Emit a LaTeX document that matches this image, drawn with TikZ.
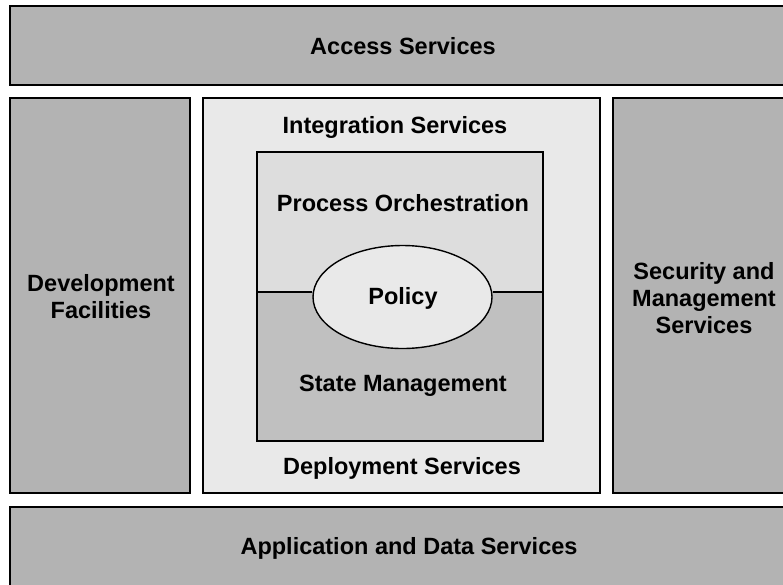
\documentclass[tikz,border=0pt]{standalone}
\usepackage{fontspec}
\setmainfont{Liberation Sans}
\usetikzlibrary{shapes.geometric}
\definecolor{outergray}{HTML}{B3B3B3}
\definecolor{intgray}{HTML}{E9E9E9}
\definecolor{procgray}{HTML}{DDDDDD}
\definecolor{stategray}{HTML}{C0C0C0}
\tikzset{
  box/.style={draw=black, line width=1.6pt},
  lbl/.style={font=\fontsize{23.5}{27}\selectfont\bfseries, align=center, inner sep=0pt}
}
\begin{document}
\begin{tikzpicture}[x=1pt, y=-1pt]
\useasboundingbox (0,0) rectangle (783,584);
\clip (0,0) rectangle (783,584);
\fill[white] (0,0) rectangle (783,584);
% outer boxes
\draw[box, fill=outergray] (10,6) rectangle (800,85);
\draw[box, fill=outergray] (10,98) rectangle (190,493);
\draw[box, fill=intgray] (203,98) rectangle (600,493);
\draw[box, fill=outergray] (613,98) rectangle (800,493);
\draw[box, fill=outergray] (10,507) rectangle (800,600);
% inner box
\fill[procgray] (257,152) rectangle (543,292);
\fill[stategray] (257,292) rectangle (543,441);
\draw[box] (257,152) rectangle (543,441);
\node[draw=black, line width=1.4pt, fill=intgray, ellipse, minimum width=179pt, minimum height=103pt, inner sep=0pt] (policy) at (402.5,297) {};
\coordinate (dl) at (257,292);
\coordinate (dr) at (543,292);
\draw[line width=1.4pt] (dl) -- (policy.west |- dl);
\draw[line width=1.4pt] (policy.east |- dr) -- (dr);
% labels
\node[lbl] (access) at (403,46) {Access Services};
\node[lbl] (dev) at (101,297) {Development\\Facilities};
\node[lbl] (sec) at (704,298) {Security and\\Management\\Services};
\node[lbl] (integ) at (395,127) {Integration Services};
\node[lbl] (proc) at (403,203) {Process Orchestration};
\node[lbl] (pol) at (403,298) {Policy};
\node[lbl] (state) at (403,386) {State Management};
\node[lbl] (deploy) at (402,468) {Deployment Services};
\node[lbl] (app) at (409,548) {Application and Data Services};
\end{tikzpicture}
\end{document}
